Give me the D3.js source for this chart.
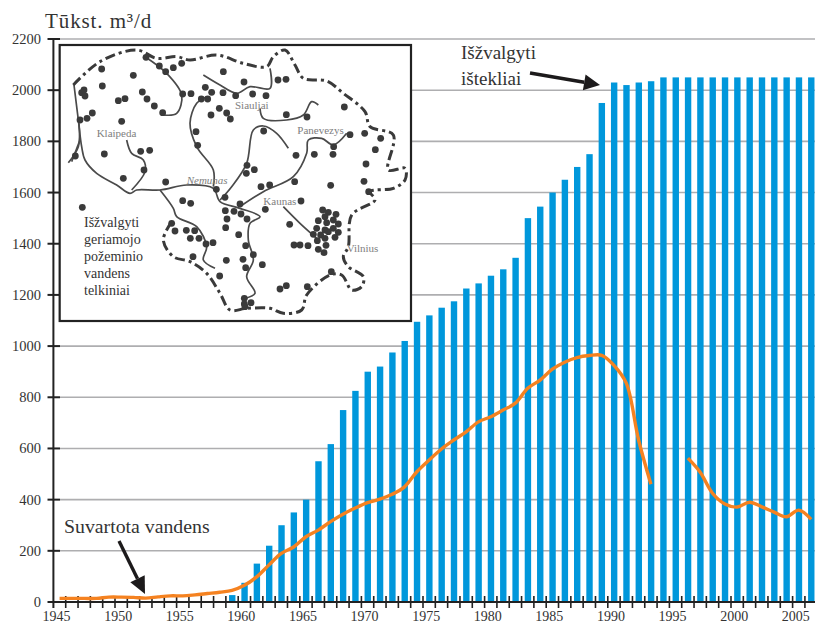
<!DOCTYPE html>
<html><head><meta charset="utf-8">
<script src="https://cdnjs.cloudflare.com/ajax/libs/d3/7.8.5/d3.min.js"></script>
<style>html,body{margin:0;padding:0;background:#fff;overflow:hidden}svg{display:block}text{font-family:"Liberation Serif",serif;fill:#333}</style>
</head><body><svg id="c" width="815" height="623"></svg>
<script>
const years = d3.range(1945, 2007);
const yTicks = [0,200,400,600,800,1000,1200,1400,1600,1800,2000,2200];
const xLabels = [1945,1950,1955,1960,1965,1970,1975,1980,1985,1990,1995,2000,2005];
const barYears = d3.range(1959, 2007);
const reserves = [27,75,150,220,300,350,400,550,617,750,825,900,920,975,1020,1095,1120,1150,1175,1225,1245,1275,1300,1345,1500,1545,1600,1650,1700,1750,1950,2030,2020,2030,2035,2050,2050,2050,2050,2050,2050,2050,2050,2050,2050,2050,2050,2050];
const useYearsA = d3.range(1945, 1994);
const useA = [14,14,14,14,19,19,18,15,20,24,24,28,33,38,45,65,98,145,190,215,255,281,314,343,367,388,402,421,450,509,555,598,633,665,704,724,750,777,835,867,910,937,955,963,964,925,855,633,460];
const useYearsB = d3.range(1996, 2007);
const useB = [562,507,425,383,371,390,372,351,333,359,323];

// Inset map, in its own coordinate space (0..1260 x 0..990)
const mapBorder = [[220,255],[300,185],[410,150],[470,175],[530,170],[570,180],[650,165],[730,190],[800,200],[820,170],[855,150],[885,195],[910,235],[980,243],[1030,280],[1095,335],[1110,380],[1180,405],[1165,510],[1215,505],[1215,540],[1180,565],[1110,575],[1125,600],[1055,645],[1045,740],[1030,770],[1045,800],[1090,830],[1085,860],[1055,870],[1025,825],[990,825],[920,885],[905,930],[850,940],[810,925],[740,925],[690,930],[660,880],[620,820],[570,785],[520,770],[490,720],[515,665]];
const mapRivers = [
 [[222,255],[235,360],[245,440],[255,480],[290,520],[350,555],[390,580],[410,570],[480,570],[560,555],[640,565],[660,605],[720,625],[780,650],[750,670],[745,720],[760,780],[740,830],[765,880],[735,895]],
 [[480,570],[520,625],[530,650],[590,680],[620,740],[610,780],[645,805]],
 [[435,170],[500,220],[545,285],[530,340],[490,345]],
 [[610,225],[660,255],[710,280],[750,260],[810,265],[810,205]],
 [[640,560],[640,510],[590,440],[570,370],[590,310],[620,290]],
 [[660,600],[695,560],[740,490],[760,390],[790,378],[830,400],[865,445]],
 [[720,620],[790,575],[880,530],[920,460],[925,420],[965,415],[1000,435],[1040,400]],
 [[780,325],[790,355],[860,360],[910,345],[935,305],[955,315]],
 [[380,420],[395,460],[430,480],[435,515],[395,570]],
 [[850,620],[900,670],[950,715]],
 [[205,488],[235,440],[237,370]],
 [[215,485],[240,420]]
];
const mapDots = [[438,172],[478,198],[497,215],[520,203],[545,190],[305,207],[400,226],[307,258],[245,278],[255,288],[252,270],[427,276],[441,297],[463,318],[488,338],[355,302],[375,296],[277,339],[261,355],[240,360],[365,364],[226,468],[313,462],[422,454],[449,451],[432,510],[370,535],[247,622],[497,546],[548,602],[572,610],[548,282],[573,281],[616,262],[635,277],[604,297],[623,297],[670,215],[669,278],[707,287],[732,246],[758,282],[798,287],[834,240],[858,238],[658,325],[680,339],[691,357],[633,345],[859,344],[921,351],[1033,321],[791,393],[588,395],[593,436],[1050,404],[1094,400],[1142,415],[1001,440],[999,463],[1126,449],[943,463],[888,466],[1098,492],[1092,544],[1106,575],[992,556],[741,496],[763,509],[739,520],[783,560],[809,555],[884,545],[649,568],[675,592],[720,612],[903,603],[796,628],[676,632],[702,634],[723,642],[741,657],[681,657],[677,683],[869,673],[716,704],[515,670],[525,693],[559,691],[584,692],[571,715],[597,715],[618,732],[639,728],[737,737],[760,764],[729,778],[737,803],[679,781],[579,770],[787,794],[659,828],[840,867],[859,857],[922,860],[994,815],[733,895],[733,912],[753,908],[735,920],[882,735],[900,735],[924,737],[968,630],[985,637],[1008,643],[975,650],[1000,660],[955,662],[980,668],[1015,672],[950,685],[975,690],[1000,685],[940,703],[962,705],[985,695],[1015,697],[1005,712],[952,722],[975,715],[955,748],[978,736],[972,758]];
const mapLabels = [["Klaipeda",290,412,false],["Siauljai",705,326,false],["Panevezys",892,401,false],["Nemunas",560,553,true],["Kaunas",790,615,false],["Vilnius",1040,757,false]];
const mapNote = ["Išžvalgyti","geriamojo","požeminio","vandens","telkiniai"];

const svg = d3.select("#c");
const x = d3.scaleBand().domain(years).range([53.4, 53.4 + 62 * 12.32]);
const y = d3.scaleLinear().domain([0, 2200]).range([602, 39]);
const dark = "#222";

// gridlines
svg.append("g").selectAll("line").data(yTicks.slice(1)).join("line")
  .attr("x1", 60).attr("x2", 815).attr("y1", y).attr("y2", y)
  .attr("stroke", "#aeaeb0").attr("stroke-width", 1.6);

// bars
const bw = 6.4;
svg.append("g").selectAll("rect").data(barYears).join("rect")
  .attr("x", d => x(d) + x.step() / 2 - bw / 2 + 0.2)
  .attr("width", bw)
  .attr("y", (d, i) => y(reserves[i]))
  .attr("height", (d, i) => y(0) - y(reserves[i]))
  .attr("fill", "#0097db");

// axes
const ax = svg.append("g");
ax.append("line").attr("x1", 53.4).attr("x2", 53.4).attr("y1", 39).attr("y2", 608).attr("stroke", dark).attr("stroke-width", 2);
ax.append("line").attr("x1", 53.4).attr("x2", 815).attr("y1", 602).attr("y2", 602).attr("stroke", dark).attr("stroke-width", 2);
ax.selectAll(".yt").data(yTicks).join("line").attr("class", "yt")
  .attr("x1", 47.5).attr("x2", 60).attr("y1", y).attr("y2", y).attr("stroke", dark).attr("stroke-width", 2);
ax.selectAll(".xt").data(years.slice(1)).join("line").attr("class", "xt")
  .attr("x1", d => x(d)).attr("x2", d => x(d)).attr("y1", 596).attr("y2", 608).attr("stroke", dark).attr("stroke-width", 1.6);
ax.selectAll(".yl").data(yTicks).join("text").attr("class", "yl")
  .attr("x", 41).attr("y", d => y(d) + 5).attr("text-anchor", "end").attr("font-size", 14.5).text(d => d);
ax.selectAll(".xl").data(xLabels).join("text").attr("class", "xl")
  .attr("x", d => x(d) + x.step() / 2 - 3).attr("y", 621).attr("text-anchor", "middle").attr("font-size", 14).text(d => d);

// consumption line
const line = d3.line().x(d => d[0]).y(d => d[1]).curve(d3.curveCatmullRom.alpha(0.5));
const cx = d => x(d) + x.step() / 2;
[[useYearsA, useA], [useYearsB, useB]].forEach(([ys, vs]) => {
  svg.append("path").attr("d", line(ys.map((yr, i) => [cx(yr), y(vs[i])])))
    .attr("fill", "none").attr("stroke", "#f58220").attr("stroke-width", 3.4);
});

// inset
const mx = d3.scaleLinear().domain([0, 1260]).range([0, 420]);
const my = d3.scaleLinear().domain([0, 990]).range([0, 330]);
const map = svg.append("g");
map.append("rect").attr("x", mx(179)).attr("y", my(135)).attr("width", mx(1054)).attr("height", my(828))
  .attr("fill", "#fff").attr("stroke", "#222").attr("stroke-width", 2.2);
const mapLine = d3.line().x(d => mx(d[0])).y(d => my(d[1])).curve(d3.curveCatmullRom.alpha(0.5));
mapRivers.forEach(r => map.append("path").attr("d", mapLine(r)).attr("fill", "none").attr("stroke", "#4a4a4a").attr("stroke-width", 1.7));
map.append("path").attr("d", mapLine(mapBorder)).attr("fill", "none").attr("stroke", "#3a3a3a").attr("stroke-width", 3).attr("stroke-dasharray", "10 4 3 4");
map.selectAll("circle").data(mapDots).join("circle")
  .attr("cx", d => mx(d[0])).attr("cy", d => my(d[1])).attr("r", 3.4).attr("fill", "#3a3a3a");
map.selectAll(".ml").data(mapLabels).join("text").attr("class", "ml")
  .attr("x", d => mx(d[1])).attr("y", d => my(d[2])).attr("font-size", 11)
  .attr("font-style", d => d[3] ? "italic" : "normal").style("fill", "#808080").text(d => d[0]);
map.selectAll(".mn").data(mapNote).join("text").attr("class", "mn")
  .attr("x", 84).attr("y", (d, i) => 226.5 + i * 17.2).attr("font-size", 14).text(d => d);

// titles & annotations
svg.append("text").attr("x", 45).attr("y", 28).attr("font-size", 21).attr("letter-spacing", 0.9).text("Tūkst. m³/d");
svg.append("text").attr("x", 461).attr("y", 59).attr("font-size", 19).text("Išžvalgyti");
svg.append("text").attr("x", 461).attr("y", 85).attr("font-size", 19).text("ištekliai");
svg.append("text").attr("x", 64).attr("y", 533).attr("font-size", 19.8).text("Suvartota vandens");

function arrow(x0, y0, x1, y1, head, hw, w) {
  const a = Math.atan2(y1 - y0, x1 - x0), c = Math.cos(a), s = Math.sin(a);
  const bx = x1 - head * c, by = y1 - head * s;
  svg.append("line").attr("x1", x0).attr("y1", y0).attr("x2", bx).attr("y2", by).attr("stroke", "#1c1a1b").attr("stroke-width", w);
  svg.append("path").attr("d", d3.line()([[x1, y1], [bx - hw * s, by + hw * c], [bx + hw * s, by - hw * c]]) + "Z").attr("fill", "#1c1a1b");
}
arrow(119, 541, 145, 594, 17, 8, 3.4);
arrow(530, 73, 600, 85, 16, 8, 3.4);
</script></body></html>
